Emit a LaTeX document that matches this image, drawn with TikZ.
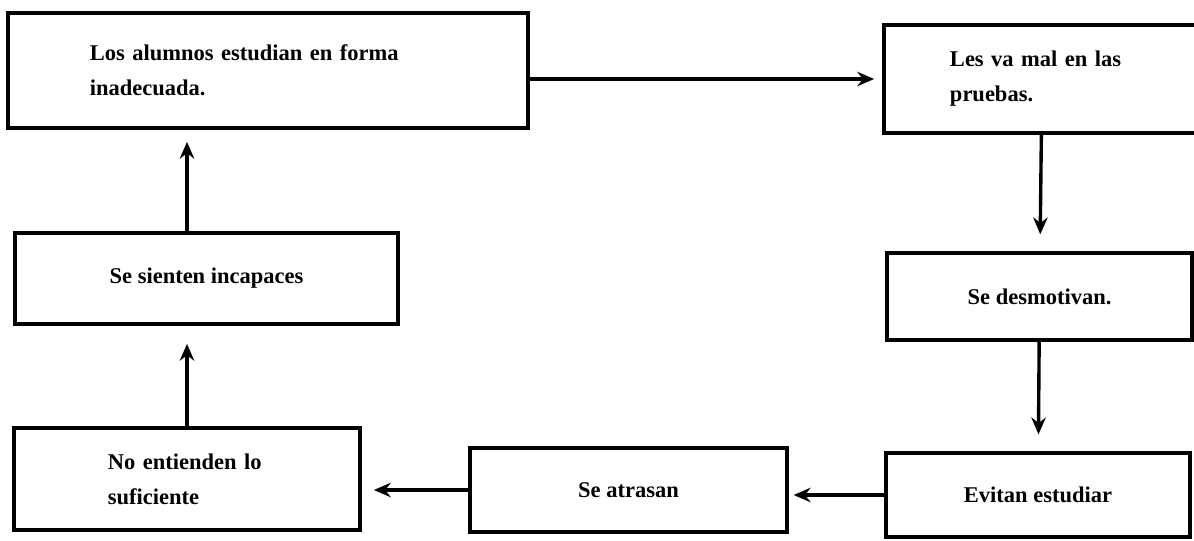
\documentclass[tikz,border=0pt]{standalone}
\usepackage{fontspec}
\setmainfont{Liberation Serif}
\usetikzlibrary{arrows.meta,positioning}

\begin{document}
\begin{tikzpicture}
    [x=0.025cm, y=-0.025cm,
    % STYLES
    % The caja style is used to draw each step of the cycle
    caja/.style={rectangle, draw, line width=2.6pt, fill=white, inner ysep=0pt, font=\bfseries\fontsize{16}{25}\selectfont},
    % Two line boxes have their text aligned to the left
    doslineas/.style={caja, align=left},
    unalinea/.style={caja, align=center},
    % The flecha style is used for the links between steps
    flecha/.style={-{Stealth[length=0.42cm,width=0.36cm]}, line width=2.4pt}]

    \useasboundingbox (0,0) rectangle (1194,540);

    % Draw steps
    \node [doslineas, text width=8.9cm, inner xsep=2.05cm, minimum height=2.875cm] (estudian) at (268,70.5) {Los alumnos estudian en forma\\ inadecuada.};
    \node [doslineas, text width=4.6cm, inner xsep=1.65cm, minimum height=2.7cm] (pruebas) at (1042,79) {Les va mal en las\\ pruebas.};
    \node [unalinea, minimum width=7.625cm, minimum height=2.175cm] (desmotivan) at (1039.5,296.5) {Se desmotivan.};
    \node [unalinea, minimum width=7.6cm, minimum height=2.1cm] (evitan) at (1038,495) {Evitan estudiar};
    \node [unalinea, minimum width=7.925cm, minimum height=2.1cm] (atrasan) at (628.5,490) {Se atrasan};
    \node [doslineas, text width=3.95cm, inner xsep=2.35cm, minimum height=2.55cm] (entienden) at (187,479) {No entienden lo\\ suficiente};
    \node [unalinea, minimum width=9.575cm, minimum height=2.275cm] (incapaces) at (206.5,278.5) {Se sienten incapaces};

    % Draw the links between steps
    \path [flecha]
    (estudian.east |- pruebas.west) edge[shorten >=0.2cm] (pruebas.west)
    (pruebas) edge[shorten >=0.42cm] (desmotivan)
    (desmotivan) edge[shorten >=0.42cm] (evitan)
    (evitan.west) edge[shorten >=0.12cm] (evitan.west -| atrasan.east)
    (atrasan.west) edge[shorten >=0.3cm] (atrasan.west -| entienden.east)
    (entienden.north) edge[shorten >=0.45cm] (entienden.north |- incapaces.south)
    (incapaces.north -| entienden.north) edge[shorten >=0.3cm] (estudian.south -| entienden.north);
\end{tikzpicture}
\end{document}
